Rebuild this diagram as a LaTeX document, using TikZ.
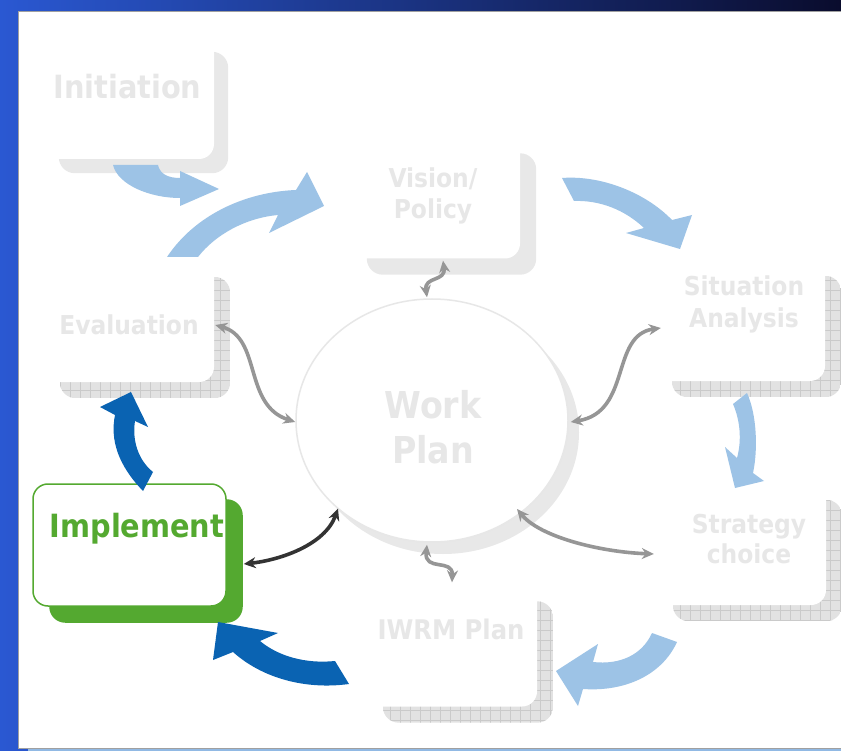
\documentclass[tikz,border=0pt]{standalone}
\usepackage{fontspec}
\setmainfont{DejaVu Sans}
\newfontfamily\condfont{DejaVu Sans Condensed}
\usetikzlibrary{arrows.meta,calc,shapes.geometric}
\pgfdeclarelayer{back}
\pgfdeclarelayer{shade}
\pgfsetlayers{back,shade,main}
\definecolor{fra}{RGB}{42,88,210}
\definecolor{frb}{RGB}{30,80,150}
\definecolor{frc}{RGB}{10,12,45}
\definecolor{bstrip}{RGB}{145,185,228}
\definecolor{frgray}{RGB}{160,160,160}
\definecolor{lblue}{RGB}{157,195,230}
\definecolor{dblue}{RGB}{10,99,178}
\definecolor{ggreen}{RGB}{84,169,48}
\definecolor{tgray}{RGB}{231,231,231}
\definecolor{sgray}{RGB}{232,232,232}
\definecolor{gridbg}{RGB}{226,226,226}
\definecolor{gridln}{RGB}{202,202,202}
\definecolor{agray}{RGB}{150,150,150}
\definecolor{adark}{RGB}{51,51,51}
\newcommand\plainshadow[2]{%
  \fill[sgray, rounded corners=16pt] ($(#1.north west)+(#2,#2)$) rectangle ($(#1.south east)+(#2,#2)$);}
\newcommand\gridshadow[2]{%
  \begin{scope}
  \clip[rounded corners=16pt] ($(#1.north west)+(#2,#2)$) rectangle ($(#1.south east)+(#2,#2)$);
  \fill[gridbg] ($(#1.north west)+(#2,#2)$) rectangle ($(#1.south east)+(#2,#2)$);
  \draw[gridln, line width=0.6pt, step=10pt] ($(#1.north west)+(#2,#2)$) grid ($(#1.south east)+(#2,#2)$);
  \end{scope}}
\begin{document}
\begin{tikzpicture}[x=1pt,y=-1pt,
  stagebox/.style={minimum width=169pt,minimum height=121pt,rounded corners=15pt,fill=white,inner sep=0pt},
  lbl/.style={font=\condfont\bfseries\fontsize{26}{30}\selectfont,text=tgray,anchor=base,inner sep=0pt},
  biglbl/.style={lbl,font=\condfont\bfseries\fontsize{32}{36}\selectfont},
  wplbl/.style={lbl,font=\condfont\bfseries\fontsize{37}{42}\selectfont},
  lightarrow/.style={fill=lblue},
  darkarrow/.style={fill=dblue},
  garrow/.style={draw=agray,line width=3.6pt,{Stealth[length=12pt,width=11pt]}-{Stealth[length=12pt,width=11pt]}},
  karrow/.style={garrow,draw=adark}
]
\useasboundingbox (0,0) rectangle (841,751);
\begin{pgfonlayer}{back}
  \shade[left color=fra, middle color=frb, right color=frc] (0,0) rectangle (841,751);
  \fill[bstrip] (28,747) rectangle (841,751);
  \filldraw[fill=white, draw=frgray, line width=1pt] (18,12) rectangle (843,748);
\end{pgfonlayer}

% stage boxes
\node[stagebox] (init) at (129.5,98.5) {};
\node[stagebox] (vis) at (435.5,198) {};
\node[stagebox] (sit) at (740.5,320.5) {};
\node[stagebox] (str) at (741.5,544.5) {};
\node[stagebox, minimum width=170pt] (iwrm) at (452,646) {};
\node[stagebox, minimum width=170pt] (eval) at (129,321.5) {};
\node[stagebox, minimum width=193pt, minimum height=122pt, draw=ggreen, line width=1.5pt] (impl) at (129.5,545) {};
\node[ellipse, minimum width=272pt, minimum height=243pt, inner sep=0pt, fill=white, draw=tgray, line width=1.5pt] (wp) at (432,420.5) {};

\begin{pgfonlayer}{shade}
  \plainshadow{init}{14}
  \plainshadow{vis}{16}
  \gridshadow{sit}{16}
  \gridshadow{str}{16}
  \gridshadow{iwrm}{16}
  \gridshadow{eval}{16}
  \fill[ggreen, rounded corners=16pt] ($(impl.north west)+(17,16)$) rectangle ($(impl.south east)+(16,16)$);
  \fill[sgray] ($(wp.center)+(11,12)$) ellipse [x radius=136pt, y radius=121.5pt];
\end{pgfonlayer}

% labels
\node[biglbl] (tinit) at (127.5,99) {Initiation};
\node[lbl] (tvis1) at (433,188) {Vision/};
\node[lbl] (tvis2) at (433,219) {Policy};
\node[lbl] (tsit1) at (744,296) {Situation};
\node[lbl] (tsit2) at (744,328) {Analysis};
\node[lbl] (tstr1) at (749,533) {Strategy};
\node[lbl] (tstr2) at (749,563) {choice};
\node[lbl, font=\condfont\bfseries\fontsize{27}{30}\selectfont] (tiwrm) at (451,639) {IWRM Plan};
\node[lbl] (teval) at (129,335) {Evaluation};
\node[wplbl] (twp1) at (433,418) {Work};
\node[wplbl] (twp2) at (433,463) {Plan};
\node[biglbl, text=ggreen] (timpl) at (137,537) {Implement};

% block arrows of the cycle
\fill[lightarrow] (113,165) .. controls (118,185) and (150,198) .. (180,198) -- (180,206) -- (219,189) -- (180,171) -- (180,178) .. controls (168,178) and (160,174) .. (158,165) -- cycle;
\fill[lightarrow] (167,257) .. controls (195,215) and (245,192) .. (296,190) -- (307,172) -- (324,206) -- (269,233) -- (278,215) .. controls (245,218) and (215,235) .. (198,257) -- cycle;
\fill[lightarrow] (562,178) .. controls (600,175) and (645,192) .. (672,220) -- (692,215) -- (680,249) -- (626,233) -- (644,228) .. controls (625,210) and (600,200) .. (574,201) -- cycle;
\fill[lightarrow] (747,393) .. controls (757,415) and (758,450) .. (753,473) -- (764,481) -- (735,488) -- (725,447) -- (737,458) .. controls (742,440) and (740,420) .. (733,404) -- cycle;
\fill[lightarrow] (652,633) .. controls (642,655) and (620,665) .. (593,662) -- (598,644) -- (556,671) -- (578,706) -- (583,689) .. controls (625,692) and (662,675) .. (677,642) -- cycle;
\fill[darkarrow] (335,661) .. controls (305,664) and (278,656) .. (260,641) -- (278,633) -- (218,622) -- (213,660) -- (233,652) .. controls (262,678) and (305,690) .. (349,684) -- cycle;
\fill[darkarrow] (143,491) .. controls (118,465) and (110,440) .. (115,415) -- (100,407) -- (131,392) -- (148,427) -- (135,421) .. controls (132,440) and (138,460) .. (153,472) -- cycle;

% links with the work plan
\draw[garrow] ($(vis.south)+(7.5,2)$) .. controls (446,282) and (424,276) .. ($(wp.north)+(-5,-1)$);
\draw[garrow] ($(eval.east)+(1,3.5)$) .. controls (262,338) and (243,405) .. ($(wp.west)+(0,1.5)$);
\draw[garrow] ($(sit.west)+(5,7.5)$) .. controls (610,335) and (632,412) .. ($(wp.east)+(2,1.5)$);
\draw[garrow] ($(wp.center)+(85,88.5)$) .. controls (540,537) and (600,552) .. ($(str.west)+(-3,9.5)$);
\draw[garrow] ($(wp.south)+(-5,2)$) .. controls (424,572) and (453,558) .. ($(iwrm.north)+(0,-3)$);
\draw[karrow] ($(wp.center)+(-94,88)$) .. controls (325,545) and (280,560) .. ($(impl.east)+(17,19)$);
\end{tikzpicture}
\end{document}
